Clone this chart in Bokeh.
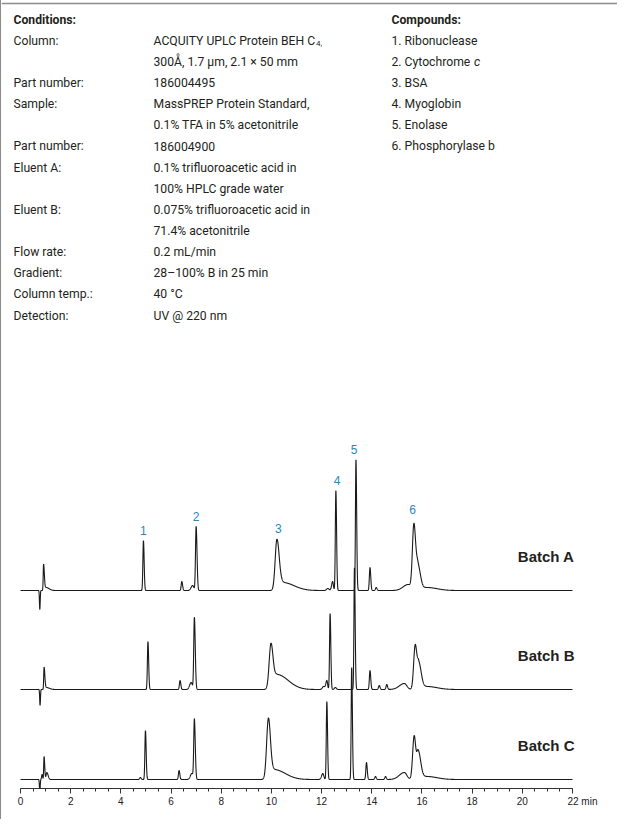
import numpy as np
from bokeh.plotting import figure
from bokeh.layouts import column
from bokeh.models import Range1d, FixedTicker, CustomJSTickFormatter
from bokeh.core.properties import value
from bokeh.embed import file_html
from bokeh.resources import INLINE

# ---------------- header text ----------------
cond_labels = ["Column:", "", "Part number:", "Sample:", "", "Part number:",
               "Eluent A:", "", "Eluent B:", "", "Flow rate:", "Gradient:",
               "Column temp.:", "Detection:"]
cond_values = ["ACQUITY UPLC Protein BEH C", "300Å, 1.7 µm, 2.1 × 50 mm", "186004495",
               "MassPREP Protein Standard,", "0.1% TFA in 5% acetonitrile", "186004900",
               "0.1% trifluoroacetic acid in", "100% HPLC grade water",
               "0.075% trifluoroacetic acid in", "71.4% acetonitrile", "0.2 mL/min",
               "28–100% B in 25 min", "40 °C", "UV @ 220 nm"]
compounds = ["1. Ribonuclease", "2. Cytochrome", "3. BSA", "4. Myoglobin",
             "5. Enolase", "6. Phosphorylase b"]

# ---------------- chromatogram peaks (rt min, height, sigma left, sigma right) ----------------
peaks_a = [(0.77, -19, 0.015, 0.015), (0.92, 26, 0.015, 0.03), (1.02, 3, 0.05, 0.12),
           (4.90, 50, 0.022, 0.028), (6.43, 9, 0.025, 0.03), (6.86, 5, 0.06, 0.05),
           (7.00, 64, 0.025, 0.035), (10.22, 50, 0.07, 0.09), (10.45, 8, 0.12, 0.45),
           (12.25, 2, 0.05, 0.05), (12.44, 9, 0.04, 0.03), (12.57, 100, 0.022, 0.028),
           (13.37, 131, 0.02, 0.028), (13.93, 23, 0.025, 0.03), (14.18, 3, 0.03, 0.03),
           (15.45, 6, 0.2, 0.1), (15.68, 66, 0.06, 0.07), (15.84, 24, 0.06, 0.1),
           (16.2, 3, 0.2, 0.4)]
peaks_b = [(0.78, -16, 0.015, 0.015), (0.94, 22, 0.015, 0.03), (1.03, 2, 0.05, 0.12),
           (5.08, 48, 0.022, 0.028), (6.36, 9, 0.025, 0.03), (6.80, 7, 0.06, 0.05),
           (6.93, 72, 0.025, 0.035), (9.98, 42, 0.07, 0.08), (10.22, 15, 0.15, 0.45),
           (12.08, 3, 0.05, 0.05), (12.21, 9, 0.04, 0.03), (12.34, 76, 0.022, 0.028),
           (12.55, 2, 0.04, 0.04), (13.31, 122, 0.02, 0.028), (13.93, 19, 0.025, 0.03),
           (14.3, 4, 0.03, 0.03), (14.6, 5, 0.03, 0.03), (15.3, 6, 0.2, 0.1),
           (15.73, 43, 0.06, 0.06), (15.87, 26, 0.06, 0.1), (16.2, 3, 0.2, 0.4)]
peaks_c = [(0.77, -13, 0.015, 0.015), (0.86, 5, 0.02, 0.02), (0.94, 23, 0.015, 0.025),
           (1.05, 7, 0.03, 0.05), (4.78, 2, 0.03, 0.03), (4.98, 49, 0.022, 0.028),
           (6.32, 9, 0.025, 0.03), (6.83, 6, 0.06, 0.05), (6.93, 60, 0.025, 0.035),
           (9.88, 58, 0.07, 0.08), (10.1, 10, 0.15, 0.45), (12.05, 6, 0.05, 0.04),
           (12.21, 78, 0.022, 0.028), (13.2, 112, 0.02, 0.028), (13.79, 17, 0.025, 0.03),
           (14.15, 3, 0.03, 0.03), (14.55, 3, 0.03, 0.03), (15.3, 7, 0.2, 0.1),
           (15.69, 43, 0.06, 0.06), (15.85, 28, 0.06, 0.1), (16.2, 3, 0.2, 0.4)]
batches = ["Batch A", "Batch B", "Batch C"]
peak_numbers = ["1", "2", "3", "4", "5", "6"]
peak_label_rt = [4.90, 7.00, 10.28, 12.62, 13.30, 15.63]
peak_label_height = [50, 64, 52, 100, 131, 71]
time_ticks = list(range(0, 23, 2))
time_unit = "min"

# ---------------- layout constants ----------------
W = 616
H1 = 392
H2 = 427
BASELINES = [198, 99, 9]
TXT = "#231f20"
BLUE = "#2a87c0"
FONT = "Roboto"
FS = "12.2px"

# ---------------- header figure ----------------
p1 = figure(width=W, height=H1, x_range=Range1d(0, W), y_range=Range1d(H1, 0),
            toolbar_location=None, output_backend="svg", min_border=0,
            outline_line_color=None)
p1.axis.visible = False
p1.grid.visible = False

p1.line(x=[0, W], y=[3, 3], line_color="#8c8c8c", line_width=1.5)

row0 = 19.0
dy = 21.15
xl, xv, xc = 12, 152, 390
p1.text(x=[xl, xc], y=[row0, row0], text=["Conditions:", "Compounds:"],
        text_font=value(FONT), text_font_style="bold", text_font_size=FS,
        text_baseline="middle", text_color=TXT)
ys = [row0 + dy * (i + 1) for i in range(len(cond_labels))]
p1.text(x=[xl] * len(cond_labels), y=ys, text=cond_labels, text_font=value(FONT),
        text_font_size=FS, text_baseline="middle", text_color=TXT)
p1.text(x=[xv] * len(cond_values), y=ys, text=cond_values, text_font=value(FONT),
        text_font_size=FS, text_baseline="middle", text_color=TXT)
p1.text(x=[xv + 162.5], y=[ys[0] + 3], text=["4,"], text_font=value(FONT),
        text_font_size="8px", text_baseline="middle", text_color=TXT)
yc = [row0 + dy * (i + 1) for i in range(len(compounds))]
p1.text(x=[xc] * len(compounds), y=yc, text=compounds, text_font=value(FONT),
        text_font_size=FS, text_baseline="middle", text_color=TXT)
p1.text(x=[xc + 82.5], y=[yc[1]], text=["c"], text_font=value(FONT),
        text_font_style="italic", text_font_size=FS, text_baseline="middle",
        text_color=TXT)

# ---------------- chromatogram figure ----------------
PX_PER_MIN = 25.09
x0 = -19 / PX_PER_MIN
p2 = figure(width=W, height=H2, x_range=Range1d(x0, x0 + W / PX_PER_MIN),
            y_range=Range1d(0, H2 - 31), toolbar_location=None, output_backend="svg",
            min_border_left=0, min_border_right=0, min_border_top=0,
            min_border_bottom=31, outline_line_color=None)
p2.grid.visible = False
p2.yaxis.visible = False

t = np.arange(0, 22.0001, 0.004)


def trace(peaks):
    y = np.zeros_like(t)
    for rt, h, sl, sr in peaks:
        s = np.where(t < rt, sl, sr)
        y += h * np.exp(-0.5 * ((t - rt) / s) ** 2)
    return y


for peaks, base in zip([peaks_a, peaks_b, peaks_c], BASELINES):
    p2.line(t, trace(peaks) + base, line_color="#1a1a1a", line_width=1.1)

p2.text(x=peak_label_rt, y=[h + BASELINES[0] + 10 for h in peak_label_height],
        text=peak_numbers, text_font=value("Liberation Sans"), text_font_size="12px",
        text_align="center", text_baseline="middle", text_color=BLUE)
p2.text(x=[22.08] * 3, y=[b + 34 for b in BASELINES], text=batches,
        text_font=value("Liberation Sans"), text_font_style="bold",
        text_font_size="15px", text_align="right", text_baseline="middle",
        text_color=TXT)

ax = p2.xaxis[0]
ax.ticker = FixedTicker(ticks=time_ticks,
                        minor_ticks=[i * 0.5 for i in range(0, 45)])
ax.bounds = (0, 22)
ax.axis_line_color = "#333333"
ax.major_tick_line_color = "#333333"
ax.minor_tick_line_color = "#333333"
ax.major_tick_in = 0
ax.major_tick_out = 5
ax.minor_tick_in = 0
ax.minor_tick_out = 3
ax.major_label_text_font = "Liberation Sans"
ax.major_label_text_font_size = "10px"
ax.major_label_text_color = "#222222"
ax.major_label_standoff = 2
last = time_ticks[-1]
ax.formatter = CustomJSTickFormatter(
    args=dict(last=last, unit=time_unit),
    code="return tick == last ? '\\u2003\\u2003' + tick + ' ' + unit : '' + tick;")

layout = column(p1, p2, styles={"border-left": "1.5px solid #8c8c8c"})

open("out.html", "w").write(file_html(layout, INLINE))
